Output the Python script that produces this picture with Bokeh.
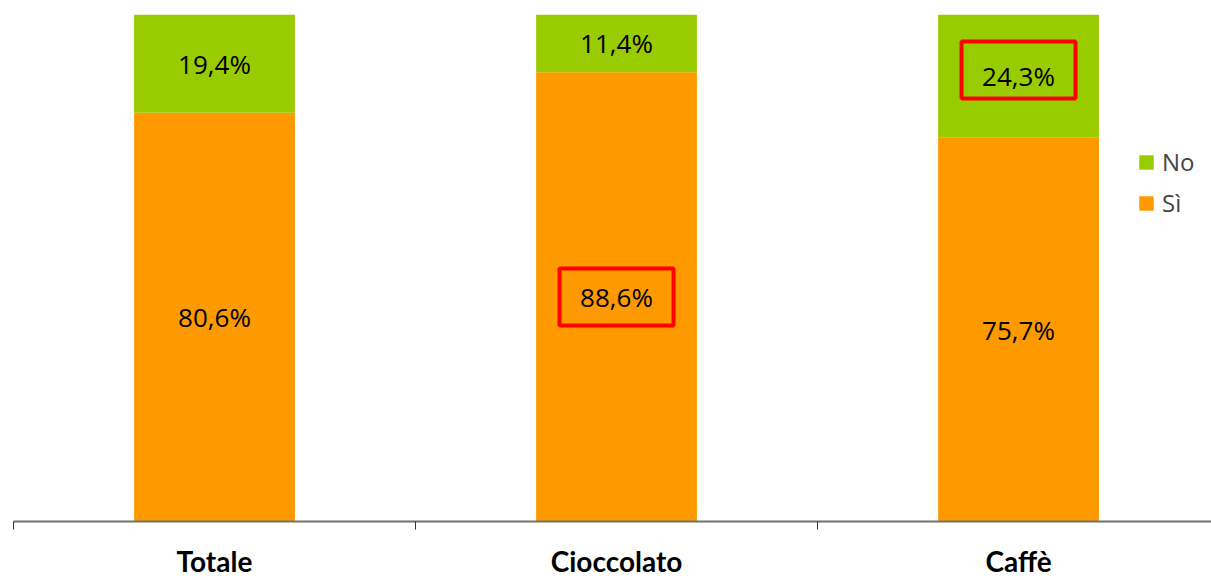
from bokeh.plotting import figure
from bokeh.models import ColumnDataSource, Range1d, FixedTicker, Legend, LegendItem
from bokeh.core.properties import value
from bokeh.embed import file_html
from bokeh.resources import INLINE

categories = ["Totale", "Cioccolato", "Caffè"]
si_values = [80.6, 88.6, 75.7]
no_values = [19.4, 11.4, 24.3]
highlight_si = [False, True, False]
highlight_no = [False, False, True]

ORANGE = "#FF9900"
GREEN = "#99CC00"

xs = [i + 0.5 for i in range(len(categories))]

def fmt(v):
    return f"{v:.1f}".replace(".", ",") + "%"

src = ColumnDataSource(dict(
    x=xs,
    si=si_values,
    no=no_values,
    si_mid=[v / 2 for v in si_values],
    no_mid=[s + n / 2 for s, n in zip(si_values, no_values)],
    si_lab=[fmt(v) for v in si_values],
    no_lab=[fmt(v) for v in no_values],
))

p = figure(width=1211, height=580, output_backend="svg", toolbar_location=None,
           x_range=Range1d(0, 2.98), y_range=Range1d(0, 100),
           y_axis_type=None, min_border_left=13, min_border_right=0,
           min_border_top=14, min_border_bottom=58)
p.outline_line_color = None
p.xgrid.visible = False
p.ygrid.visible = False
p.background_fill_color = "white"
p.border_fill_color = "white"

renderers = p.vbar_stack(["si", "no"], x="x", width=0.4, source=src,
                         color=[ORANGE, GREEN], line_color=None)

font = value("Open Sans")
p.text(x="x", y="si_mid", text="si_lab", source=src, text_align="center",
       text_baseline="middle", text_font=font, text_font_size="26px", text_color="#000000")
p.text(x="x", y="no_mid", text="no_lab", source=src, text_align="center",
       text_baseline="middle", text_font=font, text_font_size="26px", text_color="#000000")

# highlight boxes
hx, hy = [], []
for i in range(len(categories)):
    if highlight_si[i]:
        hx.append(xs[i]); hy.append(si_values[i] / 2)
    if highlight_no[i]:
        hx.append(xs[i]); hy.append(si_values[i] + no_values[i] / 2 + 1.2)
p.rect(x=hx, y=hy, width=114, height=57, width_units="screen", height_units="screen",
       fill_color=None, line_color="#FF0000", line_width=4)

ax = p.xaxis[0]
ax.ticker = FixedTicker(ticks=xs, minor_ticks=[0, 1, 2, 3])
ax.major_label_overrides = {x: c for x, c in zip(xs, categories)}
ax.major_tick_out = 0
ax.major_tick_in = 0
ax.minor_tick_out = 8
ax.minor_tick_in = 0
ax.minor_tick_line_color = "#333333"
ax.axis_line_color = "#707070"
ax.axis_line_width = 2
ax.major_label_standoff = 14
ax.major_label_text_font = "Lato"
ax.major_label_text_font_style = "bold"
ax.major_label_text_font_size = "28px"
ax.major_label_text_color = "#000000"

legend = Legend(items=[LegendItem(label="No", renderers=[renderers[1]]),
                       LegendItem(label="Sì", renderers=[renderers[0]])],
                location=(1124, 302), padding=0, margin=0, spacing=8,
                glyph_width=18, glyph_height=18, label_height=24,
                label_standoff=7, label_text_font="Open Sans",
                label_text_font_size="24px", border_line_color=None,
                background_fill_alpha=0)
p.add_layout(legend)

open("out.html", "w").write(file_html(p, INLINE))
